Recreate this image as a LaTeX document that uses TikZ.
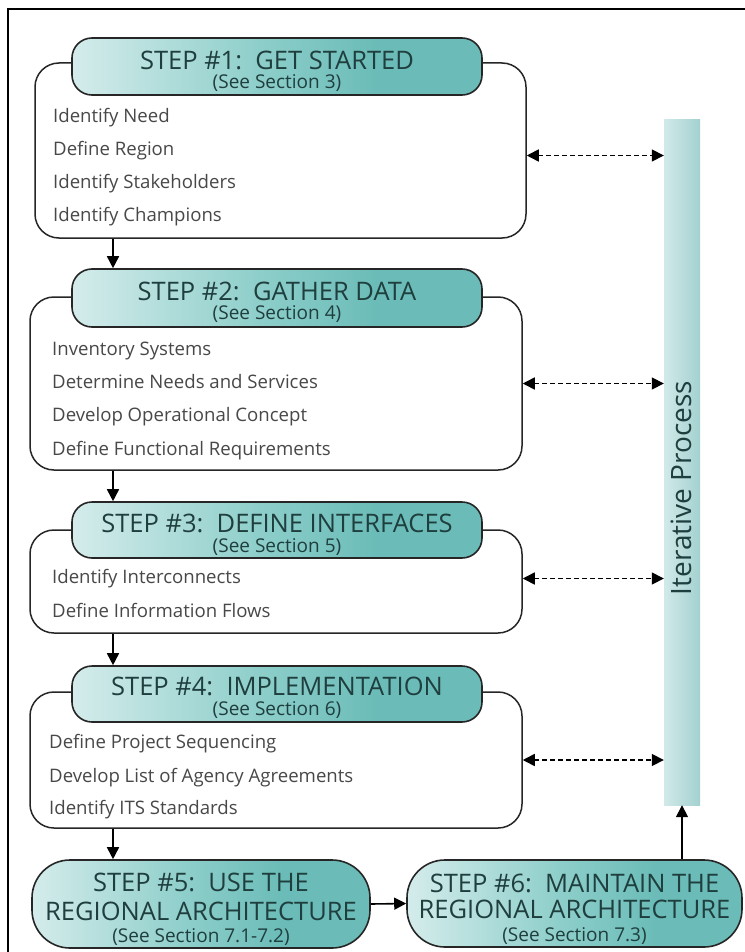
\documentclass[tikz,border=0pt]{standalone}
\usepackage{fontspec}
\setmainfont{Open Sans}
\usetikzlibrary{arrows.meta,calc}
\definecolor{hl}{HTML}{D4ECEB}
\definecolor{hm}{HTML}{8DCECA}
\definecolor{hd}{HTML}{6BBCB8}
\definecolor{bl}{HTML}{D2E9E9}
\definecolor{bd}{HTML}{A3D1CF}
\definecolor{ttlc}{HTML}{1F3E3E}
\definecolor{txtc}{HTML}{484848}
\pgfdeclarehorizontalshading{hdrshade}{100bp}{color(0bp)=(hl); color(25bp)=(hl); color(48bp)=(hm); color(62bp)=(hd); color(100bp)=(hd)}
\begin{document}
\begin{tikzpicture}[x=1pt,y=-1pt,
 frame/.style={draw=black,line width=1.8pt},
 bodybox/.style={draw=black!85,line width=1.5pt,fill=white,rounded corners=24pt,rectangle,inner sep=0pt},
 hdr/.style={draw=black!85,line width=1.6pt,shade,shading=hdrshade,rounded corners=20pt,rectangle,inner sep=0pt},
 pill/.style={draw=black!85,line width=1.6pt,shade,shading=hdrshade,rounded corners=38pt,rectangle,inner sep=0pt},
 ttl/.style={font=\fontsize{25.5}{29}\selectfont,text=ttlc,inner sep=0pt,anchor=base},
 sub/.style={font=\fontsize{19}{22}\selectfont,text=ttlc,inner sep=0pt,anchor=base},
 item/.style={font=\fontsize{18.6}{22}\selectfont,text=txtc,anchor=base west,inner sep=0pt},
 arr/.style={line width=1.6pt,-{Triangle[length=12pt,width=12pt]}},
 darr/.style={line width=1.6pt,dash pattern=on 5pt off 3pt,{Triangle[length=12pt,width=12pt]}-{Triangle[length=12pt,width=12pt]}},
]
\useasboundingbox (0,0) rectangle (744,952);
\fill[white] (0,0) rectangle (744,952);
\draw[frame] (8,9) rectangle (780,990);

% iterative bar
\node[draw=none,left color=bl,right color=bd,minimum width=36pt,minimum height=685pt,inner sep=0pt] (bar) at (682,462.5) {};
\node[rotate=90,font=\fontsize{28}{32}\selectfont,text=ttlc,inner sep=0pt] (ip) at (681,488) {Iterative Process};

% step 1
\node[bodybox,minimum width=491pt,minimum height=175pt] (b1) at (280.5,150.5) {};
\node[hdr,minimum width=410pt,minimum height=57pt] (h1) at (277,66.5) {};
\node[ttl] (t1) at ($(h1.north)+(0,32)$) {STEP \#1:\ \ GET STARTED};
\node[sub] (u1) at ($(h1.north)+(0,51)$) {(See Section 3)};
\node[item] (i11) at (53,123) {Identify Need};
\node[item] (i12) at (53,156) {Define Region};
\node[item] (i13) at (53,188) {Identify Stakeholders};
\node[item] (i14) at (53,221) {Identify Champions};

% step 2
\node[bodybox,minimum width=492pt,minimum height=173pt] (b2) at (276,383.5) {};
\node[hdr,minimum width=410pt,minimum height=58pt] (h2) at (277,298) {};
\node[ttl] (t2) at ($(h2.north)+(0,32)$) {STEP \#2:\ \ GATHER DATA};
\node[sub] (u2) at ($(h2.north)+(0,51)$) {(See Section 4)};
\node[item] (i21) at (52,355) {Inventory Systems};
\node[item] (i22) at (52,388) {Determine Needs and Services};
\node[item] (i23) at (52,421) {Develop Operational Concept};
\node[item] (i24) at (52,455) {Define Functional Requirements};

% step 3
\node[bodybox,minimum width=492pt,minimum height=103pt] (b3) at (276,581.5) {};
\node[hdr,minimum width=410pt,minimum height=56pt] (h3) at (277,530) {};
\node[ttl] (t3) at ($(h3.north)+(0,31)$) {STEP \#3:\ \ DEFINE INTERFACES};
\node[sub] (u3) at ($(h3.north)+(0,51)$) {(See Section 5)};
\node[item] (i31) at (52,583) {Identify Interconnects};
\node[item] (i32) at (52,617) {Define Information Flows};

% step 4
\node[bodybox,minimum width=492pt,minimum height=136pt] (b4) at (276,760) {};
\node[hdr,minimum width=410pt,minimum height=56pt] (h4) at (277,694) {};
\node[ttl] (t4) at ($(h4.north)+(0,30)$) {STEP \#4:\ \ IMPLEMENTATION};
\node[sub] (u4) at ($(h4.north)+(0,50)$) {(See Section 6)};
\node[item] (i41) at (49,748) {Define Project Sequencing};
\node[item] (i42) at (49,782) {Develop List of Agency Agreements};
\node[item] (i43) at (49,814) {Identify ITS Standards};

% step 5 and 6
\node[pill,minimum width=338pt,minimum height=88pt] (s5) at (201,904) {};
\node[ttl] (t5a) at ($(s5.north)+(0,32)$) {STEP \#5:\ \ USE THE};
\node[ttl] (t5b) at ($(s5.north)+(0,61)$) {REGIONAL ARCHITECTURE};
\node[sub] (t5c) at ($(s5.north)+(0,83)$) {(See Section 7.1-7.2)};
\node[pill,minimum width=335pt,minimum height=87pt] (s6) at (574.5,903.5) {};
\node[ttl] (t6a) at ($(s6.north)+(0,33)$) {STEP \#6:\ \ MAINTAIN THE};
\node[ttl] (t6b) at ($(s6.north)+(0,59)$) {REGIONAL ARCHITECTURE};
\node[sub] (t6c) at ($(s6.north)+(0,82)$) {(See Section 7.3)};

% connectors
\coordinate (xa) at (113,0);
\draw[arr] (xa |- b1.south) -- (xa |- h2.north);
\draw[arr] (xa |- b2.south) -- (xa |- h3.north);
\draw[arr] (xa |- b3.south) -- (xa |- h4.north);
\draw[arr] (xa |- b4.south) -- (xa |- s5.north);
\draw[arr] (s5.east) -- (s6.west);
\draw[arr] (bar.south |- s6.north) -- (bar.south);

\draw[darr] ($(b1.east)+(0,5)$) -- ($(bar.west |- b1.east)+(0,5)$);
\draw[darr] (b2.east) -- (bar.west |- b2.east);
\draw[darr] ($(b3.east)+(0,-3)$) -- ($(bar.west |- b3.east)+(0,-3)$);
\draw[darr] (b4.east) -- (bar.west |- b4.east);
\end{tikzpicture}
\end{document}
